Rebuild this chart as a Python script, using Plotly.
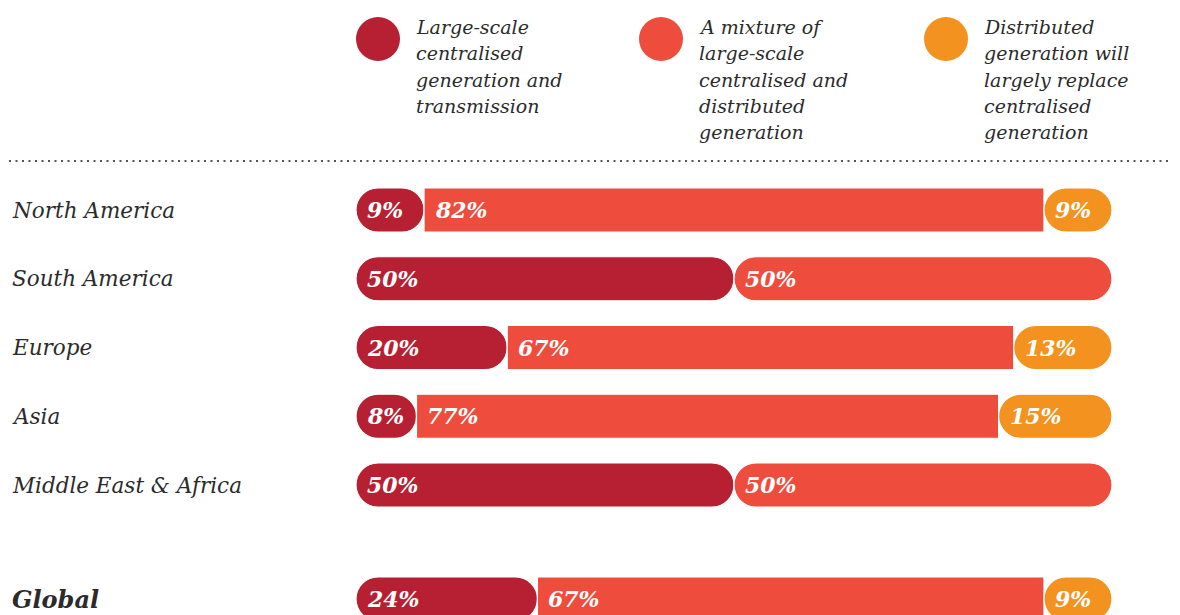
import plotly.graph_objects as go

# ---- data ----
regions = ["North America", "South America", "Europe", "Asia", "Middle East & Africa", "Global"]
centralised = [9, 50, 20, 8, 50, 24]
mixture = [82, 50, 67, 77, 50, 67]
distributed = [9, 0, 13, 15, 0, 9]
series_names = [
    ["Large-scale", "centralised", "generation and", "transmission"],
    ["A mixture of", "large-scale", "centralised and", "distributed", "generation"],
    ["Distributed", "generation will", "largely replace", "centralised", "generation"],
]

# ---- style ----
COLORS = ["#B71F32", "#EE4C3C", "#F3921F"]
TEXT = "#2B2B2B"
FONT = "DejaVu Serif"
OFF = 8  # default page body margin
W, H = 1180 - OFF, 615 - OFF


def px(x):
    return (x - OFF) / W


def py(y):
    return 1 - (y - OFF) / H


BAR_L, BAR_R = 356, 1112
ROW0, ROW_STEP = 210, 68.75
GLOBAL_Y = 599
BAR_PX = 44

ypos = [float(i) for i in range(len(regions) - 1)] + [(GLOBAL_Y - ROW0) / ROW_STEP]
y_top = (OFF - ROW0) / ROW_STEP
y_bot = (615 - ROW0) / ROW_STEP
bar_w = BAR_PX / ROW_STEP

series = [centralised, mixture, distributed]

left = dict(base=[], x=[], y=[], c=[])
mid = dict(base=[], x=[], y=[], c=[])
right = dict(base=[], x=[], y=[], c=[])
labels = []
for r in range(len(regions)):
    segs = []
    start = 0
    for s in range(3):
        v = series[s][r]
        if v > 0:
            segs.append((start, v, s))
            labels.append((start, ypos[r], f"{v}%"))
        start += v
    for k, (st, v, s) in enumerate(segs):
        if k == 0:
            d = left
            d["base"].append(st + v); d["x"].append(-v)
        elif k == len(segs) - 1:
            d = right
            d["base"].append(st); d["x"].append(v)
        else:
            d = mid
            d["base"].append(st); d["x"].append(v)
        d["y"].append(ypos[r]); d["c"].append(COLORS[s])

fig = go.Figure()
for d, rad in [(left, BAR_PX / 2), (mid, 0), (right, BAR_PX / 2)]:
    fig.add_trace(go.Bar(
        orientation="h", base=d["base"], x=d["x"], y=d["y"], width=bar_w,
        marker=dict(color=d["c"], cornerradius=rad, line=dict(color="white", width=1.2)),
        hoverinfo="skip", showlegend=False,
    ))

annotations = []
for (lx, ly, lt) in labels:
    annotations.append(dict(
        xref="x", yref="y", x=lx, y=ly, xanchor="left", yanchor="middle", xshift=9,
        text=lt, showarrow=False,
        font=dict(family=FONT, size=22, color="white", weight="bold", style="italic"),
    ))

for r, name in enumerate(regions):
    is_global = name == "Global"
    annotations.append(dict(
        xref="paper", yref="y", x=px(10), y=ypos[r], xanchor="left", yanchor="middle",
        text=name, showarrow=False,
        font=dict(family=FONT, size=24 if is_global else 21.5, color=TEXT, style="italic",
                  weight="bold" if is_global else "normal"),
    ))

shapes = []
leg_cx = [378, 661, 946]
LINE_STEP = 26.3
for i, lines in enumerate(series_names):
    cx, cy, rr = leg_cx[i], 39, 22
    shapes.append(dict(type="circle", xref="paper", yref="paper",
                       x0=px(cx - rr), x1=px(cx + rr), y0=py(cy + rr), y1=py(cy - rr),
                       fillcolor=COLORS[i], line=dict(width=0), layer="above"))
    for j, line in enumerate(lines):
        annotations.append(dict(
            xref="paper", yref="paper", x=px(cx + 36), y=py(27 + j * LINE_STEP),
            xanchor="left", yanchor="middle",
            text=line, showarrow=False, align="left",
            font=dict(family=FONT, size=19, color=TEXT, style="italic"),
        ))

shapes.append(dict(type="line", xref="paper", yref="paper", x0=px(9), x1=px(1176),
                   y0=py(161), y1=py(161),
                   line=dict(color="#555555", width=2, dash="2px,4.5px")))

fig.update_layout(
    width=W, height=H, margin=dict(l=0, r=0, t=0, b=0),
    paper_bgcolor="white", plot_bgcolor="white", barmode="overlay",
    xaxis=dict(domain=[px(BAR_L), px(BAR_R)], range=[0, 100], visible=False, fixedrange=True),
    yaxis=dict(range=[y_bot, y_top], visible=False, fixedrange=True),
    shapes=shapes, annotations=annotations, showlegend=False,
)

fig.write_html("out.html")
